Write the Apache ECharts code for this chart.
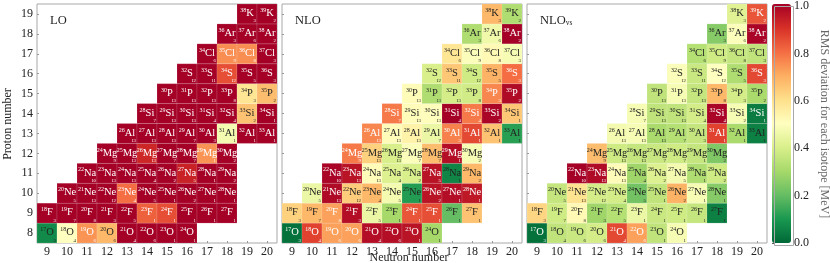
<!DOCTYPE html>
<html>
<head>
<meta charset="utf-8">
<script src="https://cdn.jsdelivr.net/npm/echarts@6/dist/echarts.min.js"></script>
<style>
html,body{margin:0;padding:0;background:#fff;}
#chart{width:830px;height:263px;}
</style>
</head>
<body>
<div id="chart"></div>
<script>
// ---- data ----
const neutronNumbers = ['9','10','11','12','13','14','15','16','17','18','19','20'];
const protonNumbers = ['8','9','10','11','12','13','14','15','16','17','18','19'];
const elements = ['O','F','Ne','Na','Mg','Al','Si','P','S','Cl','Ar','K']; // Z = 8..19
const firstNeutron = [9,9,10,11,12,13,14,15,16,17,18,19]; // first N in each proton row
const stateCounts = [
  [3,4,6,6,4,6,1,1],
  [3,7,8,3,5,1,1,1,1,1],
  [5,13,12,4,5,1,2,1,1],
  [10,13,13,4,2,5,1,2],
  [9,13,13,7,7,1,2],
  [13,13,13,7,3,1,1,1],
  [7,13,13,4,4,2,1],
  [13,13,13,8,3,2],
  [12,11,12,5,3],
  [6,9,8,3],
  [3,6,2],
  [3,2]
];
const rmsLO = [
  [0.07,0.50,0.74,0.68,1,1,1,1],
  [1,1,1,1,1,0.82,0.85,1,1,1],
  [1,1,1,0.80,1,1,1,1,1],
  [1,1,1,1,1,0.93,1,1],
  [1,1,0.92,1,1,0.74,1],
  [1,1,1,1,1,0.47,1,1],
  [1,1,1,1,1,0.66,1],
  [1,1,1,1,0.58,0.67],
  [1,1,0.85,1,1],
  [1,0.75,0.75,1],
  [1,1,1],
  [1,1]
];
const rmsNLO = [
  [0.02,0.87,0.72,0.72,0.97,0.97,0.96,0.30],
  [0.63,0.68,0.72,0.97,0.45,0.30,0.84,0.85,0.20,0.66],
  [0.45,0.98,0.64,0.68,0.47,0.11,0.96,0.97,0.95],
  [0.99,0.96,0.51,0.41,0.40,0.96,0.06,0.68],
  [0.78,0.63,0.40,0.49,0.67,0.97,0.48],
  [0.76,0.51,0.54,0.45,0.77,0.86,0.66,0.12],
  [0.78,0.51,0.505,1.0,0.78,0.99,0.65],
  [0.51,0.32,0.39,0.385,0.76,0.98],
  [0.40,0.65,0.38,0.69,0.80],
  [0.58,0.49,0.52,0.48],
  [0.32,0.46,1.0],
  [0.68,0.32]
];
const rmsNLOvs = [
  [0.02,0.35,0.37,0.39,0.86,0.72,0.35,0.48],
  [0.62,0.38,0.52,0.29,0.33,0.45,0.37,0.38,0.36,0.05],
  [0.36,0.59,0.39,0.39,0.22,0.35,0.69,0.48,0.25],
  [1.0,0.98,0.51,0.29,0.41,0.47,0.32,0.38],
  [0.67,0.38,0.36,0.37,0.38,0.36,0.24],
  [0.47,0.48,0.31,0.33,0.36,0.87,0.31,0.05],
  [0.48,0.35,0.35,0.39,0.99,0.48,0.04],
  [0.35,0.48,0.36,0.68,0.39,0.31],
  [0.49,0.37,0.50,0.32,0.86],
  [0.33,0.38,0.36,0.35],
  [0.25,0.49,0.99],
  [0.42,0.84]
];

// ---- helpers ----
function buildData(values){
  const out = [];
  values.forEach(function(row, zi){
    row.forEach(function(v, k){
      const n = firstNeutron[zi] + k;
      out.push([n - 9, zi, v, stateCounts[zi][k]]);
    });
  });
  return out;
}
const SERIF = '"Liberation Serif", "DejaVu Serif", serif';
const ctx = document.createElement('canvas').getContext('2d');
function textWidth(t, size){ ctx.font = size + 'px ' + SERIF; return ctx.measureText(t).width; }

const SYM_SIZE = 10.5, MASS_SIZE = 6, CNT_SIZE = 4.8;
function renderCell(params, api){
  const ni = api.value(0), zi = api.value(1), v = api.value(2), c = api.value(3);
  const p = api.coord([ni, zi]);
  const s = api.size([1, 1]);
  const color = api.visual('color');
  const tc = (v > 0.7 || v < 0.045) ? '#ffffff' : '#222222';
  const Z = zi + 8, N = ni + 9;
  const mass = String(Z + N), sym = elements[zi];
  const wm = textWidth(mass, MASS_SIZE), we = textWidth(sym, SYM_SIZE);
  const x0 = p[0] - (wm + we) / 2 ;
  return {
    type: 'group',
    children: [
      {type:'rect', shape:{x:p[0]-s[0]/2, y:p[1]-s[1]/2, width:s[0], height:s[1]},
       style:{fill:color, stroke:'rgba(255,255,255,0.22)', lineWidth:0.6}},
      {type:'text', x:x0, y:p[1]-3.4, style:{text:mass, font: MASS_SIZE+'px '+SERIF, fill:tc, align:'left', verticalAlign:'middle'}},
      {type:'text', x:x0+wm, y:p[1]-0.5, style:{text:sym, font: SYM_SIZE+'px '+SERIF, fill:tc, align:'left', verticalAlign:'middle'}},
      {type:'text', x:p[0]+s[0]/2-1, y:p[1]+s[1]/2-0.2, style:{text:String(c), font: CNT_SIZE+'px '+SERIF, fill:tc, align:'right', verticalAlign:'bottom'}}
    ]
  };
}

const panels = [
  {left:37, title:'{a|LO}', data: buildData(rmsLO)},
  {left:282, title:'{a|NLO}', data: buildData(rmsNLO)},
  {left:527, title:'{a|NLO}{b|vs}', data: buildData(rmsNLOvs)}
];
const PW = 240, TOP = 4, PH = 239;

const grids = [], xAxes = [], yAxes = [], series = [], graphics = [];
panels.forEach(function(pn, i){
  grids.push({left:pn.left, top:TOP, width:PW, height:PH, show:true, borderColor:'#a8a8a8', borderWidth:1, backgroundColor:'transparent'});
  xAxes.push({type:'category', gridIndex:i, data:neutronNumbers,
    axisLine:{show:false}, axisTick:{show:true, inside:true, length:2, alignWithLabel:true, lineStyle:{color:'#999'}},
    axisLabel:{show:true, margin:3, fontFamily:SERIF, fontSize:12, color:'#222'}, splitLine:{show:false}});
  yAxes.push({type:'category', gridIndex:i, data:protonNumbers,
    axisLine:{show:false}, axisTick:{show:true, inside:true, length:2, alignWithLabel:true, lineStyle:{color:'#999'}},
    axisLabel:{show:i===0, margin:4, fontFamily:SERIF, fontSize:12, color:'#222'}, splitLine:{show:false}});
  series.push({type:'custom', xAxisIndex:i, yAxisIndex:i, renderItem:renderCell, data:pn.data,
    encode:{x:0, y:1}, z:3, silent:true});
  graphics.push({type:'text', left:pn.left+13, top:14, z:10,
    style:{text:pn.title, rich:{a:{fontFamily:SERIF, fontSize:12.5, fill:'#222'}, b:{fontFamily:SERIF, fontSize:7.5, fill:'#222', padding:[6,0,0,0]}}}});
});
// colorbar axis grid
grids.push({left:772, top:TOP, width:19, height:PH, show:false});
xAxes.push({type:'value', gridIndex:3, show:false, min:0, max:1});
yAxes.push({type:'value', gridIndex:3, position:'right', min:0, max:1, interval:0.2,
  axisLine:{show:false}, axisTick:{show:true, length:2, lineStyle:{color:'#555'}},
  splitLine:{show:false},
  axisLabel:{margin:3, fontFamily:SERIF, fontSize:12, color:'#222', formatter:function(v){return v.toFixed(1);}}});

graphics.push({type:'rect', left:772, top:TOP, z:20, shape:{width:19, height:PH}, style:{fill:'none', stroke:'#a8a8a8', lineWidth:1}});
graphics.push({type:'text', x:409, y:258, z:10, style:{text:'Neutron number', font:'12px '+SERIF, fill:'#222', align:'center', verticalAlign:'middle'}});
graphics.push({type:'text', x:8, y:124, rotation:Math.PI/2, z:10, style:{text:'Proton number', font:'12px '+SERIF, fill:'#222', align:'center', verticalAlign:'middle'}});
graphics.push({type:'text', x:824, y:124, rotation:-Math.PI/2, z:10, style:{text:'RMS deviation for each isotope [MeV]', font:'12px '+SERIF, fill:'#666', align:'center', verticalAlign:'middle'}});

const chart = echarts.init(document.getElementById('chart'), null, {renderer:'canvas'});
chart.setOption({
  animation:false,
  backgroundColor:'#ffffff',
  grid:grids, xAxis:xAxes, yAxis:yAxes, series:series,
  visualMap:{type:'continuous', min:0, max:1, dimension:2, seriesIndex:[0,1,2],
    left:772, top:TOP, itemWidth:19, itemHeight:PH, padding:0, calculable:false, hoverLink:false,
    showLabel:false, text:null,
    inRange:{color:['#006837','#1a9850','#66bd63','#a6d96a','#d9ef8b','#ffffbf','#fee08b','#fdae61','#f46d43','#d73027','#a50026']}},
  graphic:graphics
});
</script>
</body>
</html>
